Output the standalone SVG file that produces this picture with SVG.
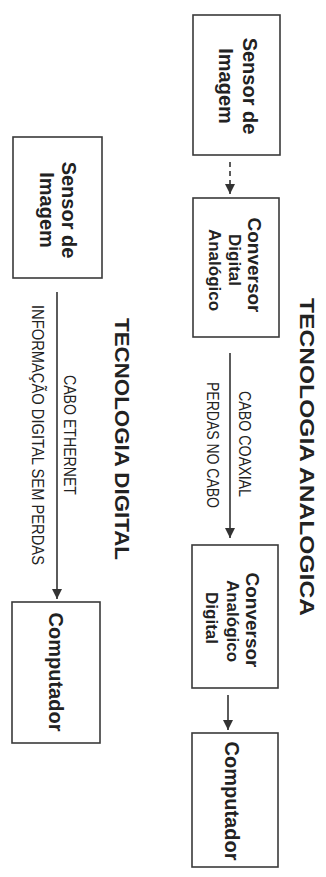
<svg xmlns="http://www.w3.org/2000/svg" width="326" height="877" viewBox="0 0 326 877">
<style>
  .box { fill: #ffffff; stroke: #3a3a3a; stroke-width: 1.6; }
  .t { font-family: "Liberation Sans", Arial, sans-serif; fill: #222; text-anchor: middle; }
  .big { font-size: 20px; font-weight: bold; }
  .mid { font-size: 19px; font-weight: bold; }
  .small { font-size: 17px; font-weight: bold; }
  .title { font-size: 21px; font-weight: bold; }
  .lab { font-size: 17px; }
  .wire { stroke: #333; stroke-width: 1.6; fill: none; }
</style>
<defs>
  <marker id="ah" markerUnits="userSpaceOnUse" markerWidth="10" markerHeight="12" viewBox="0 0 10 12" refX="10" refY="6" orient="auto">
    <path d="M0,1 L10,6 L0,11 Z" fill="#333"/>
  </marker>
</defs>
<rect width="326" height="877" fill="#ffffff"/>

<g id="titles">
  <text class="t title" transform="translate(307,457) rotate(90)" dy="0.35em" textLength="318" lengthAdjust="spacingAndGlyphs">TECNOLOGIA ANALOGICA</text>
  <text class="t title" transform="translate(122,439) rotate(90)" dy="0.35em" textLength="242" lengthAdjust="spacingAndGlyphs">TECNOLOGIA DIGITAL</text>
</g>

<g id="connectors">
  <line class="wire" x1="230" y1="162" x2="230" y2="194" stroke-dasharray="5,4" marker-end="url(#ah)"/>
  <line class="wire" x1="230" y1="353" x2="230" y2="538" marker-end="url(#ah)"/>
  <line class="wire" x1="228" y1="695" x2="228" y2="730" marker-end="url(#ah)"/>
  <line class="wire" x1="57" y1="292" x2="57" y2="599" marker-end="url(#ah)"/>
  <text class="t lab" transform="translate(245,444) rotate(90)" dy="0.35em" textLength="106" lengthAdjust="spacingAndGlyphs">CABO COAXIAL</text>
  <text class="t lab" transform="translate(213,445) rotate(90)" dy="0.35em" textLength="126" lengthAdjust="spacingAndGlyphs">PERDAS NO CABO</text>
  <text class="t lab" transform="translate(70,435) rotate(90)" dy="0.35em" textLength="120" lengthAdjust="spacingAndGlyphs">CABO ETHERNET</text>
  <text class="t lab" transform="translate(38,435) rotate(90)" dy="0.35em" textLength="260" lengthAdjust="spacingAndGlyphs">INFORMAÇÃO DIGITAL SEM PERDAS</text>
</g>

<g id="sensor-analog">
  <rect class="box" x="193" y="15" width="87" height="140"/>
  <text class="t big" transform="translate(250,86) rotate(90)" dy="0.35em">Sensor de</text>
  <text class="t big" transform="translate(226,86) rotate(90)" dy="0.35em">Imagem</text>
</g>

<g id="conversor-da">
  <rect class="box" x="193" y="198" width="86" height="139"/>
  <text class="t mid" transform="translate(255,265) rotate(90)" dy="0.35em">Conversor</text>
  <text class="t small" transform="translate(235,260) rotate(90)" dy="0.35em">Digital</text>
  <text class="t small" transform="translate(215,270) rotate(90)" dy="0.35em">Analógico</text>
</g>

<g id="conversor-ad">
  <rect class="box" x="192" y="545" width="86" height="143"/>
  <text class="t mid" transform="translate(253,620) rotate(90)" dy="0.35em">Conversor</text>
  <text class="t small" transform="translate(233,621) rotate(90)" dy="0.35em">Analógico</text>
  <text class="t small" transform="translate(212,618) rotate(90)" dy="0.35em">Digital</text>
</g>

<g id="computador-analog">
  <rect class="box" x="192" y="733" width="86" height="134"/>
  <text class="t big" transform="translate(232,801) rotate(90)" dy="0.35em">Computador</text>
</g>

<g id="sensor-digital">
  <rect class="box" x="13" y="137" width="89" height="141"/>
  <text class="t big" transform="translate(69,210) rotate(90)" dy="0.35em">Sensor de</text>
  <text class="t big" transform="translate(47,210) rotate(90)" dy="0.35em">Imagem</text>
</g>

<g id="computador-digital">
  <rect class="box" x="12" y="602" width="88" height="141"/>
  <text class="t big" transform="translate(56,672) rotate(90)" dy="0.35em">Computador</text>
</g>
</svg>
